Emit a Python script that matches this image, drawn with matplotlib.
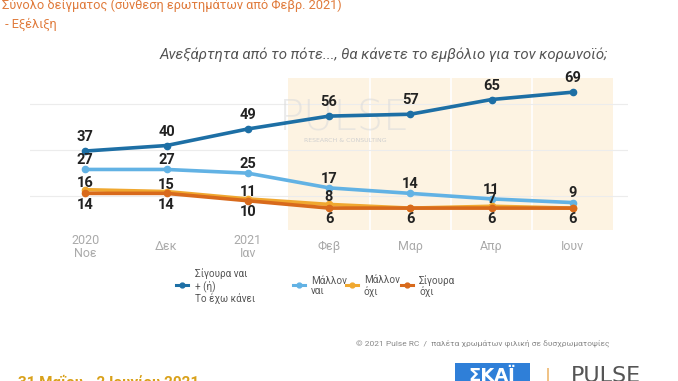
import matplotlib
matplotlib.use('Agg')
import matplotlib.pyplot as plt
from matplotlib.lines import Line2D
from matplotlib.patches import Rectangle

plt.rcParams['font.family'] = ['Roboto', 'DejaVu Sans']

months = ['2020\nΝοε', 'Δεκ', '2021\nΙαν', 'Φεβ', 'Μαρ', 'Απρ', 'Ιουν']
sigoura_nai = [37, 40, 49, 56, 57, 65, 69]
mallon_nai = [27, 27, 25, 17, 14, 11, 9]
mallon_oxi = [16, 15, 11, 8, 6, 7, 6]
sigoura_oxi = [14, 14, 10, 6, 6, 6, 6]
legend_labels = ['Σίγουρα ναι\n+ (ή)\nΤο έχω κάνει', 'Μάλλον\nναι', 'Μάλλον\nόχι', 'Σίγουρα\nόχι']

c_dblue = '#1d6fa5'
c_lblue = '#62b2e4'
c_yel = '#f0a830'
c_org = '#d86a1c'

W, H = 678, 381
fig = plt.figure(figsize=(W / 100, H / 100), dpi=100)
fig.patch.set_facecolor('white')

def fx(px):
    return px / W

def fy(py):
    return 1 - py / H

ax = fig.add_axes([fx(30), fy(230), 598 / W, 152 / H])
ax.set_xlim(-0.68, 6.68)
ax.set_ylim(-5.9, 76.7)
for s in ax.spines.values():
    s.set_visible(False)
ax.set_yticks([])

x = list(range(len(months)))
ax.axvspan(2.5, 6.5, color='#fdf3e2', zorder=0, lw=0)
for v in [3.5, 4.5, 5.5]:
    ax.axvline(v, color='white', lw=1.2, zorder=0.5)
for g in [12.5, 37.5, 62.5]:
    ax.axhline(g, color='#ececec', lw=0.8, zorder=0.6)

# watermark (behind the data)
ax.text(fx(345), fy(118), 'PULSE', fontsize=30, color='#dcdcdc', alpha=0.6,
        ha='center', va='center', family='DejaVu Sans', fontweight='light',
        transform=fig.transFigure, zorder=1)
ax.text(fx(345), fy(141), 'RESEARCH & CONSULTING', fontsize=4.5, color='#d0d0d0',
        ha='center', va='center', family='DejaVu Sans', transform=fig.transFigure, zorder=1)

series = [(sigoura_nai, c_dblue), (mallon_nai, c_lblue), (mallon_oxi, c_yel), (sigoura_oxi, c_org)]
for vals, c in series:
    ax.plot(x, vals, color=c, lw=2.6, marker='o', ms=4.5, zorder=3, solid_capstyle='round')

lab_kw = dict(fontsize=10.5, fontweight='bold', color='#222222', ha='center',
              textcoords='offset points', zorder=5)
for i in x:
    ax.annotate(str(sigoura_nai[i]), (i, sigoura_nai[i]), xytext=(0, 5), va='bottom', **lab_kw)
    ax.annotate(str(mallon_nai[i]), (i, mallon_nai[i]), xytext=(0, 1.5), va='bottom', **lab_kw)
    if mallon_oxi[i] != sigoura_oxi[i]:
        ax.annotate(str(mallon_oxi[i]), (i, mallon_oxi[i]), xytext=(0, 0), va='bottom', **lab_kw)
    ax.annotate(str(sigoura_oxi[i]), (i, sigoura_oxi[i]), xytext=(0, -3), va='top', **lab_kw)

ax.set_xticks(x)
ax.set_xticklabels(months, fontsize=9, color='#aaaaaa', linespacing=1.0)
ax.tick_params(axis='x', length=0, pad=12)
for t in ax.get_xticklabels():
    t.set_va('center')

# titles
fig.text(fx(2), fy(5), 'Σύνολο δείγματος (σύνθεση ερωτημάτων από Φεβρ. 2021)',
         fontsize=9.2, color='#e07b3c', ha='left', va='center')
fig.text(fx(2), fy(24), ' - Εξέλιξη', fontsize=9.2, color='#e07b3c', ha='left', va='center')
fig.text(fx(608), fy(55), 'Ανεξάρτητα από το πότε..., θα κάνετε το εμβόλιο για τον κορωνοϊό;',
         fontsize=10.8, color='#555555', style='italic', ha='right', va='center')

# legend
leg_pos = [(182, 195), (299, 311), (352, 364), (407, 419)]
for (hx, tx), lab, (_, c) in zip(leg_pos, legend_labels, series):
    fig.add_artist(Line2D([fx(hx - 6), fx(hx + 6)], [fy(285), fy(285)], color=c, lw=2.2,
                          transform=fig.transFigure))
    fig.add_artist(Line2D([fx(hx)], [fy(285)], color=c, marker='o', ms=3.5,
                          transform=fig.transFigure))
    fig.text(fx(tx), fy(286), lab, fontsize=7.1, color='#555555', ha='left', va='center',
             linespacing=1.1)

# footer
fig.text(fx(610), fy(343), '© 2021 Pulse RC  /  παλέτα χρωμάτων φιλική σε δυσχρωματοψίες',
         fontsize=6.0, color='#888888', ha='right', va='center')
fig.text(fx(18), fy(383), '31 Μαΐου - 2 Ιουνίου 2021', fontsize=11, fontweight='bold',
         color='#d9a11a', ha='left', va='center')
fig.add_artist(Rectangle((fx(455), 0), fx(530) - fx(455), 18 / H, color='#2f7fd8',
                         transform=fig.transFigure, lw=0))
fig.text(fx(492), fy(376), 'ΣΚΑΪ', fontsize=13, fontweight='bold', color='white',
         ha='center', va='center', family='DejaVu Sans')
fig.text(fx(548), fy(376), '|', fontsize=12, color='#e8a040', ha='center', va='center')
fig.text(fx(606), fy(376), 'PULSE', fontsize=16, color='#555555', ha='center', va='center',
         family='DejaVu Sans')

fig.savefig('out.png', dpi=100, facecolor='white')
